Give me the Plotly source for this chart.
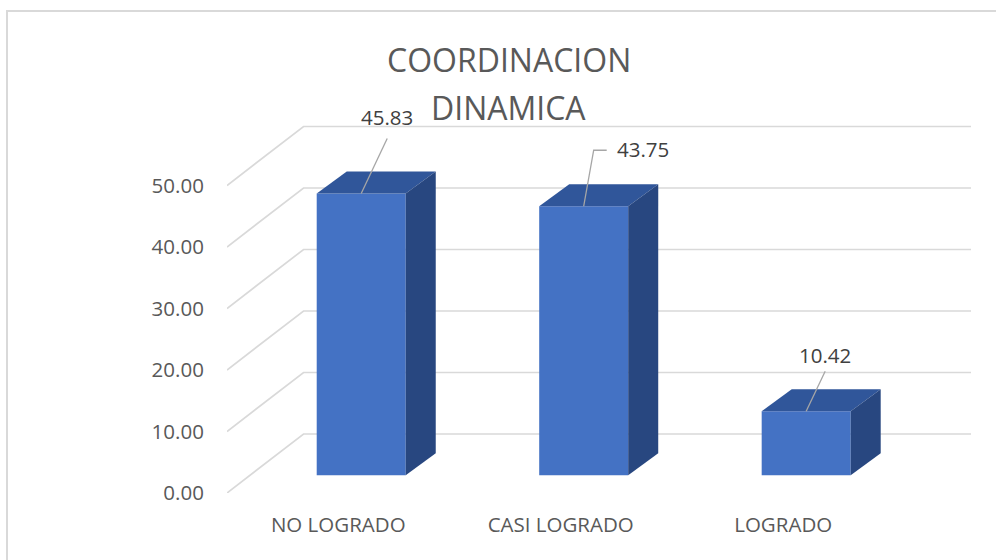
import plotly.graph_objects as go

# ---------------- data ----------------
categories = ["NO LOGRADO", "CASI LOGRADO", "LOGRADO"]
values = [45.83, 43.75, 10.42]
y_ticks = [0, 10, 20, 30, 40, 50]
title_lines = ["COORDINACION", "DINAMICA"]

# ---------------- geometry / style ----------------
W, H = 996, 560
OFF = 0  # page body margin is removed below
ML, MT = 227 - OFF, 124 - OFF
MR, MB = W - (971 - OFF), H - (493 - OFF)
PW = W - ML - MR
PH = H - MT - MB
DX = 0.344          # back-wall depth offset (x units)
DY = 9.59           # back-wall depth offset (y units)
X0, X1 = -0.5, len(categories) - 0.5 + DX
Y0, Y1 = 0, 60
KX = PW / (X1 - X0)  # px per x unit
KY = PH / (Y1 - Y0)  # px per y unit

F0 = 0.30            # depth fraction of bar front face
BW = 0.40            # bar width
BDX, BDY = 0.135, 3.57  # bar depth

FRONT = "#4472C4"
TOP = "#30569A"
SIDE = "#284780"
GRID = "#D9D9D9"
TXT = "#595959"
FONT = "Open Sans"

# label / leader offsets in pixels relative to the bar top
label_shift = [(26, 76), (59, 57.5), (19, 56)]
leader_px = [[(0, 0), (26, -55)], [(0, 0), (10, -56), (23, -56)], [(0, 0), (19, -40)]]


def px_to_paper_x(px):
    return (px - OFF - ML) / PW


def px_to_paper_y(py):
    return (H - MB - (py - OFF)) / PH


fig = go.Figure()

# gridlines (left wall diagonal + back wall horizontal) as shapes below the bars
shapes = []
for v in y_ticks:
    shapes.append(dict(
        type="path", xref="x", yref="y", layer="below",
        path=f"M {X0},{v} L {X0 + DX},{v + DY} L {len(categories) - 0.5 + DX},{v + DY}",
        line=dict(color=GRID, width=1.7)))

shapes.append(dict(type="rect", xref="paper", yref="paper",
                   x0=px_to_paper_x(7), x1=px_to_paper_x(1012),
                   y0=px_to_paper_y(580), y1=px_to_paper_y(11),
                   line=dict(color=GRID, width=2), fillcolor="rgba(0,0,0,0)",
                   layer="below"))

base = F0 * DY
xpos = [i + F0 * DX for i in range(len(categories))]

# front faces
fig.add_trace(go.Bar(
    x=xpos, y=values, base=[base] * len(values), width=BW,
    marker=dict(color=FRONT, line=dict(width=0)),
    hoverinfo="skip", showlegend=False))

# top and side faces
for c, v in zip(xpos, values):
    xl, xr = c - BW / 2, c + BW / 2
    yb, yt = base, base + v
    fig.add_trace(go.Scatter(
        x=[xl, xr, xr + BDX, xl + BDX, xl],
        y=[yt, yt, yt + BDY, yt + BDY, yt],
        fill="toself", fillcolor=TOP, mode="lines", line=dict(width=0, color=TOP),
        hoverinfo="skip", showlegend=False))
    fig.add_trace(go.Scatter(
        x=[xr, xr + BDX, xr + BDX, xr, xr],
        y=[yb, yb + BDY, yt + BDY, yt, yb],
        fill="toself", fillcolor=SIDE, mode="lines", line=dict(width=0, color=SIDE),
        hoverinfo="skip", showlegend=False))

# leader lines
for c, v, path in zip(xpos, values, leader_px):
    yt = base + v
    fig.add_trace(go.Scatter(
        x=[c + dx / KX for dx, dy in path],
        y=[yt - dy / KY for dx, dy in path],
        mode="lines", line=dict(color="#A6A6A6", width=1.3),
        hoverinfo="skip", showlegend=False))

annotations = []
for c, v, (sx, sy) in zip(xpos, values, label_shift):
    annotations.append(dict(
        x=c, y=base + v, xref="x", yref="y", text=f"{v:.2f}",
        showarrow=False, xshift=sx, yshift=sy,
        xanchor="center", yanchor="middle",
        font=dict(family=FONT, size=20.5, color="#404040")))

title_y_px = [59, 107]
for t, py in zip(title_lines, title_y_px):
    annotations.append(dict(
        x=px_to_paper_x(508.5), y=px_to_paper_y(py), xref="paper", yref="paper",
        text=t, showarrow=False, xanchor="center", yanchor="middle",
        font=dict(family=FONT, size=32, color=TXT)))

fig.update_layout(
    width=W, height=H,
    margin=dict(l=ML, r=MR, t=MT, b=MB, pad=0),
    paper_bgcolor="white", plot_bgcolor="white",
    showlegend=False, barmode="overlay",
    annotations=annotations,
    shapes=shapes,
    xaxis=dict(range=[X0, X1], tickmode="array", tickvals=list(range(len(categories))),
               ticktext=categories, showgrid=False, zeroline=False, showline=False,
               ticks="outside", ticklen=13, tickcolor="rgba(0,0,0,0)",
               tickfont=dict(family=FONT, size=20.5, color=TXT), fixedrange=True),
    yaxis=dict(range=[Y0, Y1], tickmode="array", tickvals=y_ticks, tickformat=".2f",
               showgrid=False, zeroline=False, showline=False,
               ticks="outside", ticklen=18, tickcolor="rgba(0,0,0,0)",
               tickfont=dict(family=FONT, size=20.5, color=TXT), fixedrange=True),
)

fig.write_html(
    "out.html",
    config={"displayModeBar": False, "staticPlot": True},
    post_script="document.body.style.margin='0';document.body.style.overflow='hidden';",
)
